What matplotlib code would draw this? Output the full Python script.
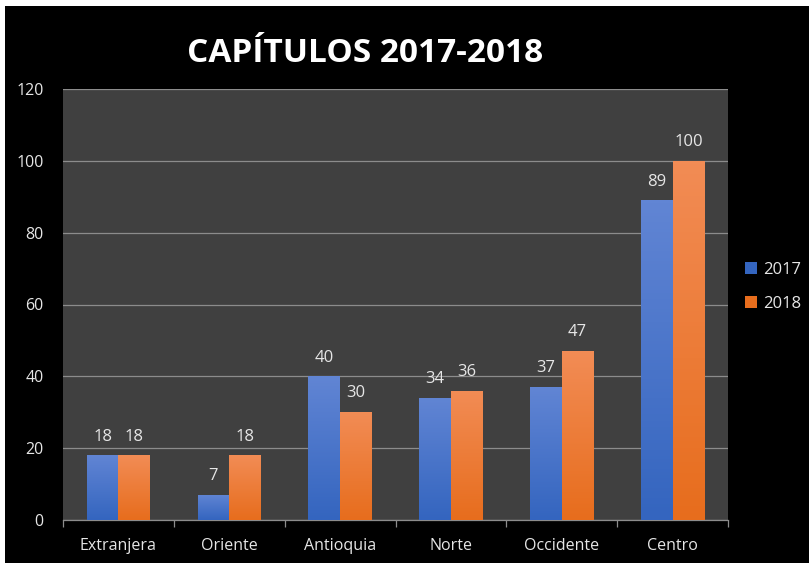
import numpy as np
import matplotlib
matplotlib.use("Agg")
import matplotlib.pyplot as plt
from matplotlib.patches import Patch

# ----------------------------------------------------------
# Data
# ----------------------------------------------------------
categories = ["Extranjera", "Oriente", "Antioquia", "Norte", "Occidente", "Centro"]
vals_2017 = [18, 7, 40, 34, 37, 89]
vals_2018 = [18, 18, 30, 36, 47, 100]
series_labels = ["2017", "2018"]

plt.rcParams['font.family'] = ['Open Sans', 'DejaVu Sans']

fig = plt.figure(figsize=(8.09, 5.63), dpi=100, facecolor='black')
# thin white strip at left and top, like the reference screenshot
fig.patches.append(plt.Rectangle((0, 0), 5 / 809, 1, transform=fig.transFigure,
                                 facecolor='white', edgecolor='none'))
fig.patches.append(plt.Rectangle((0, 1 - 6 / 563), 1, 6 / 563, transform=fig.transFigure,
                                 facecolor='white', edgecolor='none'))

ax = fig.add_axes([63 / 809, 43 / 563, 665 / 809, 431 / 563])
ax.set_zorder(2)
ax.set_facecolor('#404040')

x = np.arange(len(categories))
w = 0.285

# gradient colours (top, bottom)
grad = {
    "2017": ("#6185d4", "#3465bf"),
    "2018": ("#f28c55", "#e76d1d"),
}

def hex2rgb(h):
    h = h.lstrip('#')
    return np.array([int(h[i:i + 2], 16) / 255 for i in (0, 2, 4)])

def gradient_bars(xs, heights, name):
    top, bot = hex2rgb(grad[name][0]), hex2rgb(grad[name][1])
    t = np.linspace(0, 1, 100)[:, None]
    img = (bot * (1 - t) + top * t)[:, None, :]  # row 0 = bottom
    bars = ax.bar(xs, heights, w, color=grad[name][1], edgecolor='none', zorder=2, label=name)
    for b in bars:
        bx, by = b.get_x(), b.get_y()
        bw, bh = b.get_width(), b.get_height()
        im = ax.imshow(img, extent=[bx, bx + bw, by, by + bh], origin='lower',
                       aspect='auto', zorder=3)
        im.set_clip_path(b)
    return bars

b1 = gradient_bars(x - w / 2, vals_2017, "2017")
b2 = gradient_bars(x + w / 2, vals_2018, "2018")

for bars, vals in ((b1, vals_2017), (b2, vals_2018)):
    for b, v in zip(bars, vals):
        ax.text(b.get_x() + b.get_width() / 2, v + 3.0, str(v), ha='center', va='bottom',
                color='#e6e6e6', fontsize=12, zorder=4)

ax.set_xlim(-0.5, len(categories) - 0.5)
ax.set_ylim(0, 120)
ax.set_yticks(range(0, 121, 20))
ax.yaxis.grid(True, color='#8c8c8c', linewidth=0.9, zorder=1)
ax.set_axisbelow(True)

ax.set_xticks(x)
ax.set_xticklabels(categories)
ax.set_xticks(np.arange(-0.5, len(categories)), minor=True)
ax.tick_params(axis='x', which='major', length=0, pad=13, labelsize=11.5, labelcolor='#e6e6e6')
ax.tick_params(axis='x', which='minor', length=5, color='#8c8c8c', width=0.9)
ax.tick_params(axis='y', length=0, pad=14, labelsize=11.5, labelcolor='#e6e6e6')

for s in ('top', 'right', 'left'):
    ax.spines[s].set_visible(False)
ax.spines['bottom'].set_color('#8c8c8c')
ax.spines['bottom'].set_linewidth(0.9)

handles = [Patch(facecolor=grad["2017"][1], edgecolor='none'),
           Patch(facecolor=grad["2018"][1], edgecolor='none')]
leg = fig.legend(handles, series_labels, loc='center left', bbox_to_anchor=(745 / 809, 1 - 287 / 563),
                 frameon=False, fontsize=12, handlelength=0.7, handleheight=0.7,
                 handletextpad=0.4, labelspacing=1.1, labelcolor='#e6e6e6',
                 borderaxespad=0, borderpad=0)

fig.text(365 / 809, 1 - 53 / 563, "CAPÍTULOS 2017-2018", ha='center', va='center',
         color='white', fontsize=24, fontweight='bold')

fig.savefig("out.png", dpi=100, facecolor=fig.get_facecolor())
